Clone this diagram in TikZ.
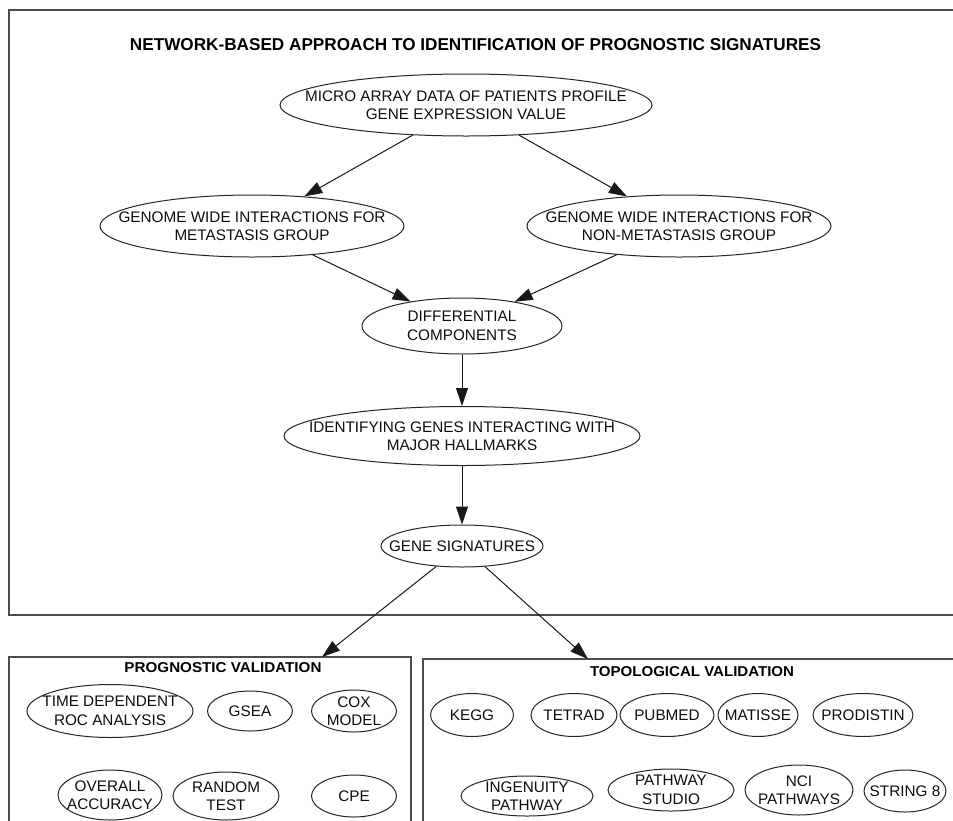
\documentclass[tikz,border=0pt]{standalone}
\usepackage{fontspec}
\setmainfont{Liberation Sans}
\usetikzlibrary{shapes.geometric,arrows.meta}
\newcommand\elnode[5]{%
  \node[el,minimum width=#3,minimum height=#4] (#1) at (#2) {};
  \node[eltext] (#1-t) at (#1.center) {#5};}
\begin{document}
\begin{tikzpicture}[x=1pt,y=-1pt,
  el/.style={ellipse,draw=black!85,line width=1pt,inner sep=0pt},
  eltext/.style={inner sep=0pt,align=center,font=\fontsize{15.3}{18.5}\selectfont,text=black!95},
  arr/.style={draw=black!90,line width=1pt,-{Triangle[length=18pt,width=12pt]}},
  panel/.style={draw=black!70,line width=1.8pt},
  ttl/.style={inner sep=0pt,font=\bfseries,text=black}]
\useasboundingbox (0,0) rectangle (953,820);
\fill[white] (0,0) rectangle (953,820);
% panels
\draw[panel] (960,10) -- (9,10) -- (9,615) -- (960,615);
\draw[panel] (411,830) -- (411,657) -- (9,657) -- (9,830);
\draw[panel] (960,659) -- (423,659) -- (423,830);
\coordinate (pvtop) at (322,657);
\coordinate (tvtop) at (588,659);
% titles
\node[ttl] (title) at (475.5,45) {\resizebox{691pt}{12pt}{\bfseries NETWORK-BASED APPROACH TO IDENTIFICATION OF PROGNOSTIC SIGNATURES}};
\node[ttl] (pvtitle) at (223,668) {\resizebox{197pt}{10pt}{\bfseries PROGNOSTIC VALIDATION}};
\node[ttl] (tvtitle) at (692,672) {\resizebox{204pt}{10pt}{\bfseries TOPOLOGICAL VALIDATION}};
% main flow
\elnode{top}{466,105}{372pt}{62pt}{MICRO ARRAY DATA OF PATIENTS PROFILE\\GENE EXPRESSION VALUE}
\elnode{meta}{252,226}{304pt}{62pt}{GENOME WIDE INTERACTIONS FOR\\METASTASIS GROUP}
\elnode{nonmeta}{679,226}{304pt}{62pt}{GENOME WIDE INTERACTIONS FOR\\NON-METASTASIS GROUP}
\elnode{diff}{462,326}{200pt}{56pt}{DIFFERENTIAL\\COMPONENTS}
\elnode{ident}{462,436}{356pt}{59pt}{IDENTIFYING GENES INTERACTING WITH\\MAJOR HALLMARKS}
\elnode{gene}{462,546}{162pt}{42pt}{GENE SIGNATURES}
% prognostic
\elnode{troc}{110,711}{166pt}{53pt}{TIME DEPENDENT\\ROC ANALYSIS}
\elnode{gsea}{250,711}{85pt}{40pt}{GSEA}
\elnode{cox}{354,711}{85pt}{42pt}{COX\\MODEL}
\elnode{overall}{110,795}{104pt}{50pt}{OVERALL\\ACCURACY}
\elnode{random}{226,796}{106pt}{48pt}{RANDOM\\TEST}
\elnode{cpe}{354,796}{85pt}{42pt}{CPE}
% topological
\elnode{kegg}{472,715}{83pt}{43pt}{KEGG}
\elnode{tetrad}{574,715}{86pt}{43pt}{TETRAD}
\elnode{pubmed}{667,715}{94pt}{43pt}{PUBMED}
\elnode{matisse}{758,715}{80pt}{43pt}{MATISSE}
\elnode{prodistin}{863,715}{100pt}{43pt}{PRODISTIN}
\elnode{ingenuity}{527,796}{132pt}{40pt}{INGENUITY\\PATHWAY}
\elnode{pwstudio}{671,790}{126pt}{42pt}{PATHWAY\\STUDIO}
\elnode{nci}{799,790}{108pt}{50pt}{NCI\\PATHWAYS}
\elnode{string}{905,791}{82pt}{42pt}{STRING 8}
% connectors
\draw[arr] (top) -- (meta);
\draw[arr] (top) -- (nonmeta);
\draw[arr] (meta) -- (diff);
\draw[arr] (nonmeta) -- (diff);
\draw[arr] (diff) -- (ident);
\draw[arr] (ident) -- (gene);
\draw[arr] (gene) -- (pvtop);
\draw[arr] (gene) -- (tvtop);
\end{tikzpicture}
\end{document}
